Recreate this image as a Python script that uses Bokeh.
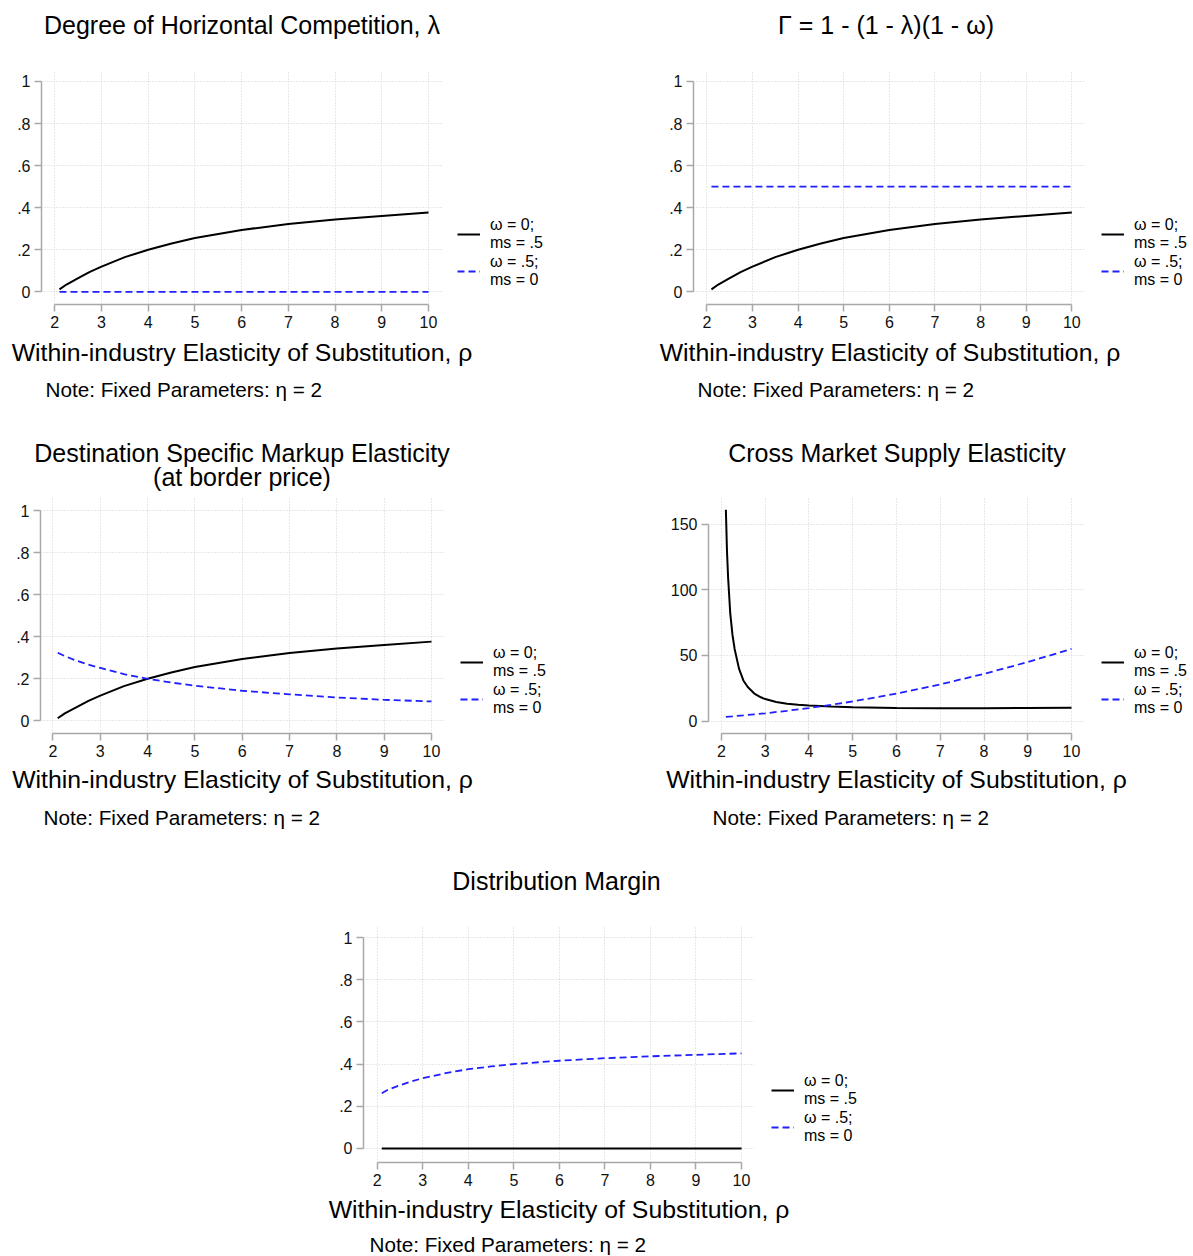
from bokeh.plotting import figure
from bokeh.layouts import column, row
from bokeh.models import (Range1d, FixedTicker, CustomJSTickFormatter, Legend,
                          LegendItem, Label)
from bokeh.embed import file_html
from bokeh.resources import INLINE

FONT = "Liberation Sans"
AXIS_COLOR = "#a8a8a8"
GRID_COLOR = "#d0d0d0"
BLUE = "#1f1fff"
PAGE_W = 1193

# ---------------- data ----------------
rho = [2.1, 2.25, 2.5, 2.75, 3, 3.5, 4, 4.5, 5, 6, 7, 8, 9, 10]
x_ticks = [2, 3, 4, 5, 6, 7, 8, 9, 10]
unit_ticks = [0, 0.2, 0.4, 0.6, 0.8, 1]
supply_ticks = [0, 50, 100, 150]

lambda_w0 = [0.012, 0.035, 0.065, 0.095, 0.12, 0.165, 0.20, 0.23, 0.256, 0.294, 0.323, 0.344, 0.361, 0.377]
lambda_w5 = [0, 0, 0, 0, 0, 0, 0, 0, 0, 0, 0, 0, 0, 0]

gamma_w0 = [0.012, 0.035, 0.065, 0.095, 0.12, 0.165, 0.20, 0.23, 0.256, 0.294, 0.323, 0.344, 0.361, 0.377]
gamma_w5 = [0.5, 0.5, 0.5, 0.5, 0.5, 0.5, 0.5, 0.5, 0.5, 0.5, 0.5, 0.5, 0.5, 0.5]

markup_w0 = [0.012, 0.035, 0.065, 0.095, 0.12, 0.165, 0.20, 0.23, 0.256, 0.294, 0.323, 0.344, 0.361, 0.377]
markup_w5 = [0.324, 0.308, 0.286, 0.267, 0.252, 0.222, 0.20, 0.182, 0.167, 0.143, 0.126, 0.111, 0.100, 0.092]

rho_supply = [2.1, 2.125, 2.15, 2.2, 2.25, 2.3, 2.4, 2.5, 2.6, 2.75, 2.9, 3, 3.25,
              3.5, 3.75, 4, 4.5, 5, 6, 7, 8, 9, 10]
supply_w0 = [161, 130, 110, 82, 66, 55, 40, 31, 26, 21, 18.2, 16.8, 14.6,
             13.2, 12.4, 11.9, 11.1, 10.6, 10.1, 9.9, 9.9, 10.0, 10.2]
supply_w5 = [3.3, 3.7, 4.4, 5.2, 6.0, 7.9, 10, 12.4, 15, 21, 28, 36, 45, 55]

margin_w0 = [0, 0, 0, 0, 0, 0, 0, 0, 0, 0, 0, 0, 0, 0]
margin_w5 = [0.262, 0.28, 0.30, 0.318, 0.333, 0.357, 0.376, 0.389, 0.40, 0.416, 0.428, 0.437, 0.444, 0.451]

label_w0 = "ω = 0;\nms = .5"
label_w5 = "ω = .5;\nms = 0"
x_title = "Within-industry Elasticity of Substitution, ρ"
note_text = "Note: Fixed Parameters: η = 2"

TITLE_SIZE = "25px"
XTITLE_SIZE = "24.8px"
NOTE_SIZE = "20.7px"

unit_fmt = CustomJSTickFormatter(code="""
if (Math.abs(tick) < 1e-9) return '0';
if (Math.abs(tick - 1) < 1e-9) return '1';
return tick.toFixed(1).replace(/^0\\./, '.');
""")

AXIS_BAND = 32   # space under each plot frame for the tick labels


def blank(width, height, x_range=None, y_range=None):
    f = figure(frame_width=width, frame_height=height,
               x_range=x_range or Range1d(0, width),
               y_range=y_range or Range1d(height, 0),
               x_axis_location=None, y_axis_location=None,
               toolbar_location=None, output_backend="svg",
               min_border=0, title=None)
    f.outline_line_color = None
    f.background_fill_color = "white"
    f.border_fill_color = "white"
    f.grid.visible = False
    return f


def strip(height, texts):
    f = blank(PAGE_W, height)
    for x, y, text, align, size in texts:
        f.add_layout(Label(x=x, y=y, text=text, text_align=align,
                           text_baseline="middle", text_font=FONT,
                           text_font_size=size, text_color="black"))
    return f


def legend_box(width, height, dx, dy, xs0, y0, xs5, y5):
    # legend keys: the panel's own series, drawn in a range that keeps them out of view
    f = blank(width, height, Range1d(-2, -1), Range1d(0, 1))
    r0 = f.line(xs0, y0, line_color="black", line_width=2)
    r5 = f.line(xs5, y5, line_color=BLUE, line_width=1.8, line_dash="7 4")
    leg = Legend(items=[LegendItem(label=label_w0, renderers=[r0]),
                        LegendItem(label=label_w5, renderers=[r5])],
                 location=(dx, dy), orientation="vertical",
                 border_line_color=None, background_fill_alpha=0,
                 padding=0, margin=0, glyph_width=23, glyph_height=28,
                 label_height=28, label_standoff=10, spacing=1,
                 label_text_font=FONT, label_text_font_size="16px",
                 label_text_line_height=0.9, label_text_color="black")
    f.add_layout(leg)
    return f


def plot(fw, fh, left, xr, yr, yticks, ybounds, xs0, y0, xs5, y5, unit_axis=True):
    p = figure(frame_width=fw, frame_height=fh,
               x_range=Range1d(*xr), y_range=Range1d(*yr),
               output_backend="svg", toolbar_location=None, title=None,
               min_border_left=left, min_border_right=0,
               min_border_top=0, min_border_bottom=AXIS_BAND)
    p.outline_line_color = None
    p.background_fill_color = "white"
    p.border_fill_color = "white"

    xt = FixedTicker(ticks=x_ticks)
    yt = FixedTicker(ticks=yticks)
    for ax in (p.xaxis[0], p.yaxis[0]):
        ax.axis_line_color = AXIS_COLOR
        ax.axis_line_width = 1.5
        ax.major_tick_line_color = AXIS_COLOR
        ax.major_tick_line_width = 1.5
        ax.major_tick_in = 0
        ax.major_tick_out = 7
        ax.minor_tick_line_color = None
        ax.major_label_text_font = FONT
        ax.major_label_text_font_size = "16px"
        ax.major_label_text_color = "#111111"
    p.xaxis[0].ticker = xt
    p.xaxis[0].bounds = (2, 10)
    p.xaxis[0].major_label_standoff = 4
    p.yaxis[0].ticker = yt
    p.yaxis[0].bounds = ybounds
    p.yaxis[0].major_label_standoff = 4
    p.yaxis[0].major_label_orientation = "horizontal"
    if unit_axis:
        p.yaxis[0].formatter = unit_fmt

    p.xgrid[0].ticker = xt
    p.ygrid[0].ticker = yt
    for g in (p.xgrid[0], p.ygrid[0]):
        g.grid_line_color = GRID_COLOR
        g.grid_line_dash = "1 2"
        g.grid_line_width = 1

    p.line(xs0, y0, line_color="black", line_width=2)
    p.line(xs5, y5, line_color=BLUE, line_width=1.8, line_dash="7 4")
    return p


# ---------------- row 1 ----------------
t1 = strip(70, [(241.5, 24, "Degree of Horizontal Competition, λ", "center", TITLE_SIZE),
                (885.5, 24, "Γ = 1 - (1 - λ)(1 - ω)", "center", TITLE_SIZE)])
p1 = plot(401, 234, 41, (1.715, 10.30), (-0.060, 1.052), unit_ticks, (0, 1),
          rho, lambda_w0, rho, lambda_w5)
l1 = legend_box(156, 234 + AXIS_BAND, 15, AXIS_BAND + 15, rho, lambda_w0, rho, lambda_w5)
p2 = plot(392, 234, 95, (1.707, 10.30), (-0.060, 1.052), unit_ticks, (0, 1),
          rho, gamma_w0, rho, gamma_w5)
l2 = legend_box(108, 234 + AXIS_BAND, 16, AXIS_BAND + 15, rho, gamma_w0, rho, gamma_w5)
s1 = strip(84, [(241.5, 16, x_title, "center", XTITLE_SIZE),
                (889.5, 16, x_title, "center", XTITLE_SIZE),
                (45, 53, note_text, "left", NOTE_SIZE),
                (697, 53, note_text, "left", NOTE_SIZE)])

# ---------------- row 2 ----------------
t2 = strip(77, [(241.5, 32.7, "Destination Specific Markup Elasticity", "center", TITLE_SIZE),
                (241.5, 56.7, "(at border price)", "center", TITLE_SIZE),
                (896.5, 32, "Cross Market Supply Elasticity", "center", TITLE_SIZE)])
p3 = plot(404, 236, 40, (1.736, 10.275), (-0.0605, 1.0633), unit_ticks, (0, 1),
          rho, markup_w0, rho, markup_w5)
l3 = legend_box(154, 236 + AXIS_BAND, 16, AXIS_BAND + 16, rho, markup_w0, rho, markup_w5)
p4 = plot(376, 236, 110, (1.703, 10.297), (-9.4, 170.3), supply_ticks, (0, 150),
          rho_supply, supply_w0, rho, supply_w5, unit_axis=False)
l4 = legend_box(109, 236 + AXIS_BAND, 17, AXIS_BAND + 16, rho_supply, supply_w0, rho, supply_w5)
s2 = strip(80, [(242, 14, x_title, "center", XTITLE_SIZE),
                (896, 14, x_title, "center", XTITLE_SIZE),
                (43, 52, note_text, "left", NOTE_SIZE),
                (712, 52, note_text, "left", NOTE_SIZE)])

# ---------------- row 3 ----------------
t3 = strip(80, [(556, 35, "Distribution Margin", "center", TITLE_SIZE)])
p5 = plot(391, 237, 363, (1.699, 10.285), (-0.0664, 1.057), unit_ticks, (0, 1),
          rho, margin_w0, rho, margin_w5)
l5 = legend_box(439, 237 + AXIS_BAND, 17, AXIS_BAND + 17, rho, margin_w0, rho, margin_w5)
s3 = strip(61, [(558.5, 15, x_title, "center", XTITLE_SIZE),
                (369, 50, note_text, "left", NOTE_SIZE)])

layout = column(t1, row(p1, l1, p2, l2), s1,
                t2, row(p3, l3, p4, l4), s2,
                t3, row(p5, l5), s3)

open("out.html", "w").write(file_html(layout, INLINE))
